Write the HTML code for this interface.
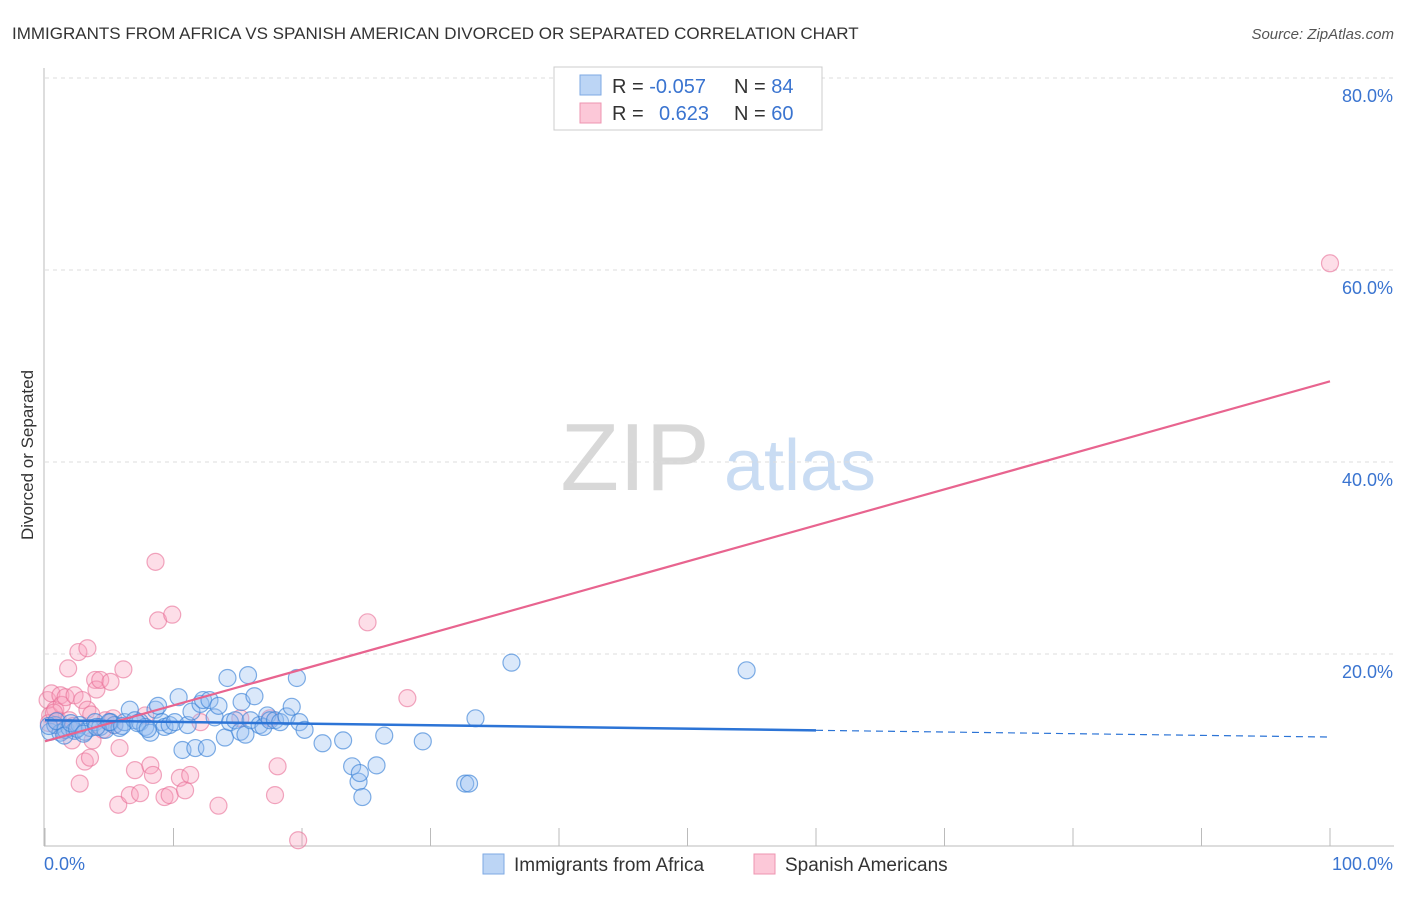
<!DOCTYPE html>
<html><head><meta charset="utf-8"><style>
body{margin:0;background:#fff;font-family:"Liberation Sans",sans-serif;}
svg text{font-family:"Liberation Sans",sans-serif;}
</style></head><body>
<svg id="chart" width="1406" height="892" xmlns="http://www.w3.org/2000/svg">
<text x="12" y="39" font-size="17" fill="#333">IMMIGRANTS FROM AFRICA VS SPANISH AMERICAN DIVORCED OR SEPARATED CORRELATION CHART</text>
<text x="1394" y="39" font-size="15" fill="#555" font-style="italic" text-anchor="end">Source: ZipAtlas.com</text>
<text x="33" y="455" font-size="17" fill="#333" text-anchor="middle" transform="rotate(-90 33 455)">Divorced or Separated</text>
<g>
<text x="635" y="490" font-size="96" fill="#d8d8d8" font-family="Liberation Serif" text-anchor="middle">ZIP</text>
<text x="800" y="490" font-size="72" fill="#c9dcf3" text-anchor="middle">atlas</text>
</g>
<g id="grid"></g><g id="axes"></g><g id="pts"></g><g id="trend"></g>
<g>
<rect x="554" y="67" width="268" height="63" fill="#fff" stroke="#ccc"/>
<rect x="580" y="75" width="21" height="20" fill="#bcd5f5" stroke="#7ea9e3"/>
<rect x="580" y="103" width="21" height="20" fill="#fcc8d8" stroke="#ee94b0"/>
<text x="612" y="93" font-size="20" fill="#333">R = <tspan fill="#3a74d0">-0.057</tspan></text>
<text x="734" y="93" font-size="20" fill="#333">N = <tspan fill="#3a74d0">84</tspan></text>
<text x="612" y="120" font-size="20" fill="#333">R = </text>
<text x="659" y="120" font-size="20" fill="#3a74d0">0.623</text>
<text x="734" y="120" font-size="20" fill="#333">N = <tspan fill="#3a74d0">60</tspan></text>
</g>
<g>
<rect x="483" y="854" width="21" height="20" fill="#bcd5f5" stroke="#7ea9e3"/>
<text x="514" y="871" font-size="19" fill="#333">Immigrants from Africa</text>
<rect x="754" y="854" width="21" height="20" fill="#fcc8d8" stroke="#ee94b0"/>
<text x="785" y="871" font-size="19" fill="#333">Spanish Americans</text>
</g>
</svg>
<script>
const yTicks=[20,40,60,80];
const yTickLabels=["20.0%","40.0%","60.0%","80.0%"];
const xTicks=[0,10,20,30,40,50,60,70,80,90,100];
const xEndLabels=["0.0%","100.0%"];
const blueX=[0.4,0.8,1.2,1.6,1.9,2.3,2.7,3.1,3.5,3.9,4.3,4.7,5.1,5.4,5.8,6.2,6.6,7.0,7.4,7.8,8.2,8.6,8.8,9.1,9.3,9.7,10.1,10.4,10.7,11.1,11.4,11.7,12.1,12.3,12.6,12.8,13.2,13.5,14.0,14.2,14.4,14.8,15.2,15.3,15.6,15.8,16.0,16.3,16.7,17.0,17.3,17.5,17.9,18.3,18.8,19.2,19.6,19.8,20.2,21.6,23.2,23.9,24.4,24.5,24.7,25.8,26.4,29.4,32.7,33.0,33.5,36.3,54.6,0.3,0.9,1.5,2.0,2.5,3.0,4.0,5.0,6.0,7.2,8.0];
const blueY=[11.9,12.6,11.8,12.1,12.3,12.0,12.6,11.9,12.3,12.9,12.4,12.1,12.9,12.6,12.3,12.9,14.2,13.1,12.9,12.4,11.8,14.2,14.6,12.9,12.4,12.6,12.9,15.5,10.0,12.6,14.0,10.2,14.8,15.2,10.2,15.2,13.4,14.6,11.3,17.5,12.9,13.1,11.9,15.0,11.6,17.8,13.1,15.6,12.6,12.4,13.6,13.1,13.1,12.9,13.5,14.5,17.5,12.9,12.1,10.7,11.0,8.3,6.7,7.6,5.1,8.4,11.5,10.9,6.5,6.5,13.3,19.1,18.3,12.5,13.0,11.5,12.8,12.2,11.7,12.4,12.9,12.5,12.8,12.2];
const pinkX=[0.2,0.4,0.5,0.8,1.0,1.2,1.3,1.6,1.8,1.9,2.1,2.3,2.6,2.7,2.9,3.1,3.3,3.3,3.5,3.7,3.9,4.0,4.3,4.5,4.7,5.1,5.3,5.4,5.7,5.8,6.1,6.6,7.0,7.4,7.8,8.2,8.4,8.6,8.8,9.3,9.7,9.9,10.5,10.9,11.3,12.1,13.5,15.2,17.5,17.9,18.1,19.7,25.1,28.2,100,0.3,0.7,1.4,2.2,3.6];
const pinkY=[15.2,13.6,15.9,14.2,13.1,15.7,14.7,15.5,18.5,13.1,11.0,15.7,20.2,6.5,15.2,8.8,20.6,14.2,9.2,11.0,17.3,16.3,17.3,12.1,13.1,17.1,13.3,12.6,4.3,10.2,18.4,5.3,7.9,5.5,13.6,8.4,7.4,29.6,23.5,5.1,5.3,24.1,7.1,5.8,7.4,12.9,4.2,13.3,13.3,5.3,8.3,0.6,23.3,15.4,60.7,12.8,13.9,12.0,12.5,13.7];
const blueTrend=[13.1,11.35];
const pinkTrend=[10.9,48.4];

const NS="http://www.w3.org/2000/svg";
const X0=45,X1=1330,Y0=846,YS=9.6;
const xs=v=>X0+(X1-X0)*v/100;
const ys=v=>Y0-YS*v;
function mk(tag,attrs,parent){const e=document.createElementNS(NS,tag);for(const k in attrs)e.setAttribute(k,attrs[k]);parent.appendChild(e);return e;}
const grid=document.getElementById('grid'),axes=document.getElementById('axes'),pts=document.getElementById('pts'),trend=document.getElementById('trend');
yTicks.forEach((t,i)=>{
 const l=mk('line',{x1:X0,x2:1394,y1:ys(t),y2:ys(t),stroke:'#ddd','stroke-dasharray':'4,4'},grid);
 
 
 const tx=mk('text',{x:1393,y:ys(t)+24,'font-size':18,fill:'#3a74d0','text-anchor':'end'},axes);
 tx.textContent=yTickLabels[i];
 
 
});
const ax=mk('line',{x1:44,x2:44,y1:68,y2:846,stroke:'#bbb'},axes);


const bx=mk('line',{x1:44,x2:1394,y1:846,y2:846,stroke:'#bbb'},axes);


xTicks.forEach(t=>{
 const l=mk('line',{x1:xs(t),x2:xs(t),y1:828,y2:846,stroke:'#bbb'},axes);
 
 
});
const xl0=mk('text',{x:44,y:870,'font-size':18,fill:'#3a74d0'},axes);
xl0.textContent=xEndLabels[0];


const xl1=mk('text',{x:1393,y:870,'font-size':18,fill:'#3a74d0','text-anchor':'end'},axes);
xl1.textContent=xEndLabels[1];


pinkX.forEach((x,i)=>{
 const c=mk('circle',{cx:xs(x),cy:ys(pinkY[i]),r:8.5,fill:'rgba(248,160,188,0.35)',stroke:'rgba(232,110,150,0.6)','stroke-width':1.2},pts);
 
 
});
blueX.forEach((x,i)=>{
 const c=mk('circle',{cx:xs(x),cy:ys(blueY[i]),r:8.5,fill:'rgba(150,190,240,0.35)',stroke:'rgba(60,130,215,0.65)','stroke-width':1.2},pts);
 
 
});
const bAt=v=>blueTrend[0]+(blueTrend[1]-blueTrend[0])*v/100;
const pAt=v=>pinkTrend[0]+(pinkTrend[1]-pinkTrend[0])*v/100;
const pl=mk('line',{x1:xs(0),y1:ys(pAt(0)),x2:xs(100),y2:ys(pAt(100)),stroke:'#e8648f','stroke-width':2.2},trend);


const bl=mk('line',{x1:xs(0),y1:ys(bAt(0)),x2:xs(60),y2:ys(bAt(60)),stroke:'#2c74d6','stroke-width':2.5},trend);


const bd=mk('line',{x1:xs(60),y1:ys(bAt(60)),x2:xs(100),y2:ys(bAt(100)),stroke:'#2c74d6','stroke-width':1.2,'stroke-dasharray':'7,5'},trend);


</script>
</body></html>
